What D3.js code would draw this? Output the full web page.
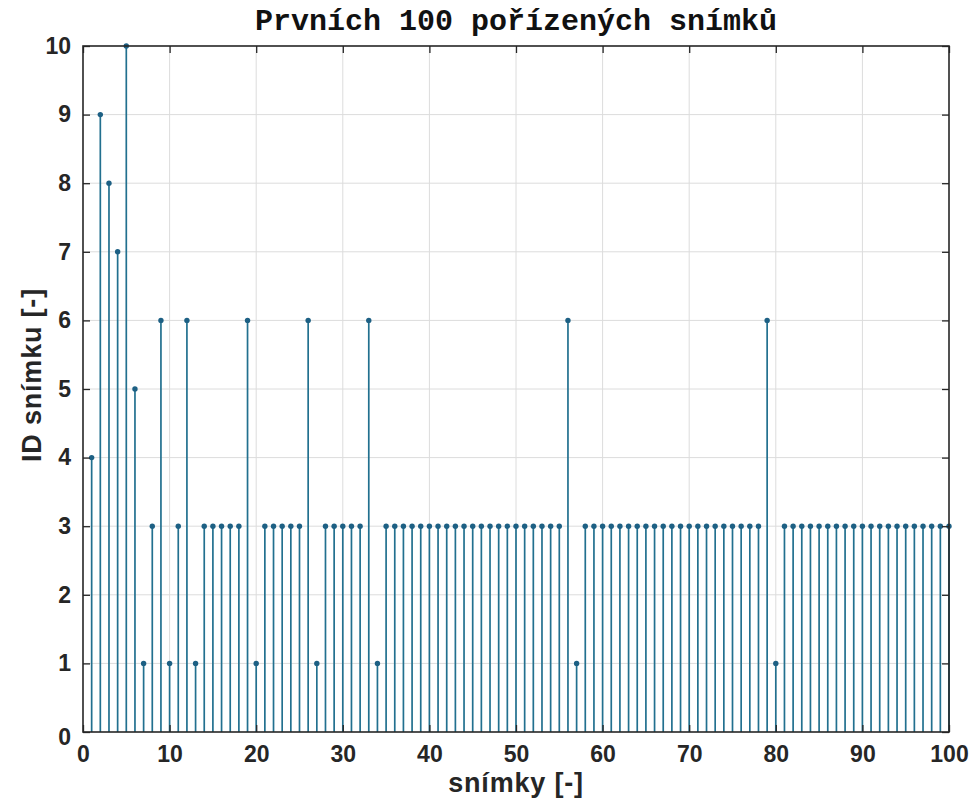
<!DOCTYPE html>
<html>
<head>
<meta charset="utf-8">
<script src="https://cdn.jsdelivr.net/npm/d3@7"></script>
<style>
  body { margin: 0; background: #fff; }
  svg { display: block; }
</style>
</head>
<body>
<div id="chart"></div>
<script>
var frames = d3.range( 1, 101 );
var ids = [
  4, 9, 8, 7, 10, 5, 1, 3, 6, 1,
  3, 6, 1, 3, 3, 3, 3, 3, 6, 1,
  3, 3, 3, 3, 3, 6, 1, 3, 3, 3,
  3, 3, 6, 1, 3, 3, 3, 3, 3, 3,
  3, 3, 3, 3, 3, 3, 3, 3, 3, 3,
  3, 3, 3, 3, 3, 6, 1, 3, 3, 3,
  3, 3, 3, 3, 3, 3, 3, 3, 3, 3,
  3, 3, 3, 3, 3, 3, 3, 3, 6, 1,
  3, 3, 3, 3, 3, 3, 3, 3, 3, 3,
  3, 3, 3, 3, 3, 3, 3, 3, 3, 3
];
var xTicks = d3.range( 0, 101, 10 );
var yTicks = d3.range( 0, 11, 1 );
var title = "Prvních 100 pořízených snímků";
var xLabel = "snímky [-]";
var yLabel = "ID snímku [-]";

var width = 974,
  height = 803,
  margin = { top: 46, right: 25, bottom: 71, left: 83 };

var innerWidth = width - margin.left - margin.right,
  innerHeight = height - margin.top - margin.bottom;

var data = frames.map( function( f, i ) { return [ f, ids[ i ] ]; } );

var x = d3.scaleLinear().domain( [ 0, 100 ] ).range( [ 0, innerWidth ] );
var y = d3.scaleLinear().domain( [ 0, 10 ] ).range( [ innerHeight, 0 ] );

var ink = "#262626",
  stemColor = "#22708f";

var svg = d3.select( "#chart" ).append( "svg" )
  .attr( "width", width )
  .attr( "height", height );

var g = svg.append( "g" )
  .attr( "transform", "translate(" + margin.left + "," + margin.top + ")" );

// grid
g.append( "g" ).selectAll( "line" )
  .data( xTicks.slice( 1, -1 ) )
  .enter().append( "line" )
    .attr( "x1", d => x( d ) ).attr( "x2", d => x( d ) )
    .attr( "y1", 0 ).attr( "y2", innerHeight )
    .attr( "stroke", "#dcdcdc" ).attr( "stroke-width", 1 );

g.append( "g" ).selectAll( "line" )
  .data( yTicks.slice( 1, -1 ) )
  .enter().append( "line" )
    .attr( "x1", 0 ).attr( "x2", innerWidth )
    .attr( "y1", d => y( d ) ).attr( "y2", d => y( d ) )
    .attr( "stroke", "#dcdcdc" ).attr( "stroke-width", 1 );

// stems
var stems = g.append( "g" );
stems.selectAll( "line" )
  .data( data )
  .enter().append( "line" )
    .attr( "x1", d => x( d[ 0 ] ) ).attr( "x2", d => x( d[ 0 ] ) )
    .attr( "y1", y( 0 ) ).attr( "y2", d => y( d[ 1 ] ) )
    .attr( "stroke", stemColor ).attr( "stroke-width", 1.7 );

stems.selectAll( "circle" )
  .data( data )
  .enter().append( "circle" )
    .attr( "cx", d => x( d[ 0 ] ) )
    .attr( "cy", d => y( d[ 1 ] ) )
    .attr( "r", 2.7 )
    .attr( "fill", "#1d6084" );

// axes, ticks pointing inwards like matlab
var tickLen = 7;
var xAxis = d3.axisBottom( x ).tickValues( xTicks ).tickSizeInner( -tickLen ).tickSizeOuter( 0 ).tickPadding( 14 );
var yAxis = d3.axisLeft( y ).tickValues( yTicks ).tickSizeInner( -tickLen ).tickSizeOuter( 0 ).tickPadding( 12 );

var gx = g.append( "g" )
  .attr( "transform", "translate(0," + innerHeight + ")" )
  .call( xAxis );
var gy = g.append( "g" ).call( yAxis );

var gxTop = g.append( "g" )
  .call( d3.axisTop( x ).tickValues( xTicks ).tickSizeInner( -tickLen ).tickSizeOuter( 0 ) );
var gyRight = g.append( "g" )
  .attr( "transform", "translate(" + innerWidth + ",0)" )
  .call( d3.axisRight( y ).tickValues( yTicks ).tickSizeInner( -tickLen ).tickSizeOuter( 0 ) );

// top and right only carry tick marks
gxTop.selectAll( "text" ).remove();
gyRight.selectAll( "text" ).remove();

[ gx, gy, gxTop, gyRight ].forEach( function( a ) {
  a.select( ".domain" ).remove();
  a.selectAll( ".tick line" ).attr( "stroke", ink ).attr( "stroke-width", 1.3 );
  a.selectAll( "text" )
    .attr( "fill", ink )
    .style( "font-family", "'Liberation Sans', Arial, sans-serif" )
    .style( "font-weight", "bold" )
    .style( "font-size", "23px" );
} );

// the y "0" label sits a little lower in the original
gy.selectAll( ".tick text" ).filter( d => d === 0 ).attr( "dy", "0.55em" );

g.append( "rect" )
  .attr( "width", innerWidth ).attr( "height", innerHeight )
  .attr( "fill", "none" )
  .attr( "stroke", ink ).attr( "stroke-width", 1.6 );

// texts
svg.append( "text" )
  .attr( "x", margin.left + innerWidth / 2 )
  .attr( "y", 30 )
  .attr( "text-anchor", "middle" )
  .attr( "fill", "#111" )
  .style( "font-family", "'Liberation Mono', 'Courier New', monospace" )
  .style( "font-weight", "bold" )
  .style( "font-size", "30px" )
  .text( title );

svg.append( "text" )
  .attr( "x", margin.left + innerWidth / 2 )
  .attr( "y", 792 )
  .attr( "text-anchor", "middle" )
  .attr( "fill", ink )
  .style( "font-family", "'Liberation Sans', Arial, sans-serif" )
  .style( "font-weight", "bold" )
  .style( "font-size", "27px" )
  .style( "letter-spacing", "0.8px" )
  .text( xLabel );

svg.append( "text" )
  .attr( "transform", "translate(41," + ( margin.top + innerHeight / 2 - 14 ) + ") rotate(-90)" )
  .attr( "text-anchor", "middle" )
  .attr( "fill", ink )
  .style( "font-family", "'Liberation Sans', Arial, sans-serif" )
  .style( "font-weight", "bold" )
  .style( "font-size", "27px" )
  .style( "letter-spacing", "0.8px" )
  .text( yLabel );
</script>
</body>
</html>
